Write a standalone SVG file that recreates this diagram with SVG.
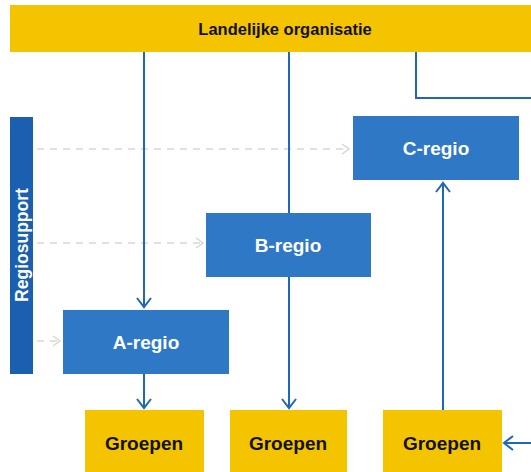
<svg xmlns="http://www.w3.org/2000/svg" width="531" height="472" viewBox="0 0 531 472">
<defs>
<marker id="ah" markerWidth="16" markerHeight="16" refX="12" refY="8" orient="auto" markerUnits="userSpaceOnUse">
<path d="M3,1 L12,8 L3,15" fill="none" stroke="#1f67b8" stroke-width="2"/>
</marker>
<marker id="ahg" markerWidth="14" markerHeight="14" refX="11" refY="7" orient="auto" markerUnits="userSpaceOnUse">
<path d="M4,2 L11,7 L4,12" fill="none" stroke="#d6d6d6" stroke-width="1.5"/>
</marker>
<style>
.y{fill:#f5c400}
.b{fill:#2e78c5}
.tb{font-family:"Liberation Sans",Arial,sans-serif;font-weight:bold;font-size:19px;fill:#111;text-anchor:middle;dominant-baseline:central}
.tw{font-family:"Liberation Sans",Arial,sans-serif;font-weight:bold;font-size:19px;fill:#fff;text-anchor:middle;dominant-baseline:central}
.c{fill:none;stroke:#1f67b8;stroke-width:2}
.d{fill:none;stroke:#d6d6d6;stroke-width:1.5;stroke-dasharray:7,6}
</style>
</defs>
<g id="connectors">
<path class="d" d="M37,149 H349" marker-end="url(#ahg)"/>
<path class="d" d="M37,243 H203" marker-end="url(#ahg)"/>
<path class="d" d="M37,341 H60" marker-end="url(#ahg)"/>
<path class="c" d="M144,52 V307" marker-end="url(#ah)"/>
<path class="c" d="M289,52 V408" marker-end="url(#ah)"/>
<path class="c" d="M416,52 V98 H531"/>
<path class="c" d="M144,374 V408" marker-end="url(#ah)"/>
<path class="c" d="M443,410 V183" marker-end="url(#ah)"/>
<path class="c" d="M531,443 H504" marker-end="url(#ah)"/>
</g>
<g id="landelijke">
<rect class="y" x="10" y="5" width="521" height="47"/>
<text class="tb" x="285" y="29" style="font-size:16.5px">Landelijke organisatie</text>
</g>
<g id="regiosupport">
<rect x="10" y="117" width="23" height="257" fill="#1a5fb0"/>
<text class="tw" transform="translate(22,245) rotate(-90)" style="font-size:17.5px">Regiosupport</text>
</g>
<g id="c-regio">
<rect class="b" x="353" y="116" width="166" height="64"/>
<text class="tw" x="436" y="148">C-regio</text>
</g>
<g id="b-regio">
<rect class="b" x="206" y="213" width="165" height="64"/>
<text class="tw" x="288" y="245">B-regio</text>
</g>
<g id="a-regio">
<rect class="b" x="63" y="310" width="166" height="64"/>
<text class="tw" x="146" y="342">A-regio</text>
</g>
<g id="groepen1">
<rect class="y" x="85" y="410" width="119" height="62"/>
<text class="tb" x="144" y="443">Groepen</text>
</g>
<g id="groepen2">
<rect class="y" x="230" y="410" width="117" height="62"/>
<text class="tb" x="288" y="443">Groepen</text>
</g>
<g id="groepen3">
<rect class="y" x="383" y="410" width="119" height="62"/>
<text class="tb" x="442" y="443">Groepen</text>
</g>
</svg>
